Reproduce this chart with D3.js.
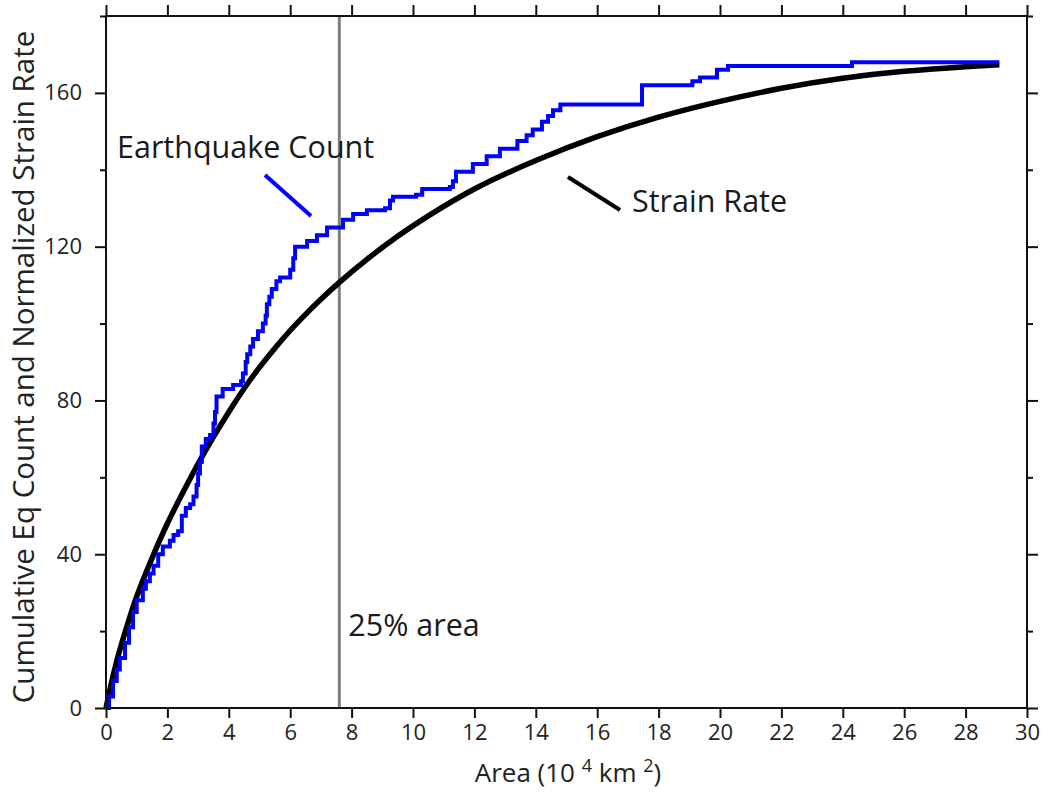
<!DOCTYPE html>
<html>
<head>
<meta charset="utf-8">
<script src="https://cdn.jsdelivr.net/npm/d3@7"></script>
<style>
  body { margin: 0; background: #fff; }
  svg { display: block; font-family: "Open Sans", "Noto Sans", sans-serif; }
</style>
</head>
<body>
<svg id="chart" width="1049" height="803"></svg>
<script>
// cumulative earthquake count (step curve)
const eqArea = [0, 0.1, 0.23, 0.35, 0.45, 0.62, 0.75, 0.88, 1.0, 1.2, 1.3, 1.43, 1.55, 1.7, 1.85,
  2.08, 2.2, 2.35, 2.47, 2.6, 2.74, 2.85, 2.95, 3.0, 3.06, 3.12, 3.25, 3.39, 3.5, 3.55, 3.6,
  3.8, 4.14, 4.4, 4.46, 4.55, 4.6, 4.7, 4.79, 4.95, 5.11, 5.2, 5.24, 5.32, 5.4, 5.55, 5.67,
  6.0, 6.1, 6.16, 6.55, 6.87, 7.2, 7.72, 8.05, 8.5, 9.09, 9.25, 9.35, 10.1, 10.3, 11.2, 11.3,
  11.4, 11.95, 12.4, 12.83, 13.4, 13.7, 13.9, 14.2, 14.4, 14.56, 14.8, 17.46, 19.1, 19.35,
  19.9, 20.26, 24.3, 29.1];
const eqCount = [0, 3, 7, 10, 13, 17, 21, 25, 28, 31, 33, 35, 37, 40, 42,
  43.5, 45, 46, 50, 52, 53, 55, 58, 61, 64, 68, 70, 71, 74, 77, 81,
  83, 84, 85, 87, 90, 92, 94, 96, 98, 100, 102, 105, 107, 109, 111, 112,
  114, 117, 120, 121.5, 123, 125, 127, 128.5, 129.5, 130, 132, 133, 133.5, 135, 135.5, 137,
  139.5, 141.5, 143.5, 145.5, 147.5, 149, 150.5, 152.5, 154, 155.5, 157, 162, 163, 164,
  166, 167, 168, 168];

// normalized strain rate curve
const strainArea = [0, 0.25, 0.5, 0.75, 1, 1.5, 2, 2.5, 3, 3.5, 4, 4.5, 5, 5.5, 6, 6.5, 7, 7.6,
  8.5, 9.5, 10.5, 12, 14, 16, 18, 20, 22, 24, 26, 28, 29.1];
const strainRate = [0, 9, 16.5, 23, 29, 39, 48, 56, 63.5, 70.5, 77, 83.1, 88.6, 93.6, 98.2, 102.4, 106.3, 110.7,
  116.7, 122.7, 128, 135, 142.4, 148.6, 153.7, 157.8, 161.2, 163.8, 165.6, 166.8, 167.3];

const areaMark = 7.6;   // 25% area
const xTicks = d3.range(0, 31, 2);
const yTicks = d3.range(0, 181, 20);
const yLabels = [0, 40, 80, 120, 160];

const svg = d3.select('#chart');
const margin = {left: 106, right: 22, top: 16, bottom: 95};
const W = 1049, H = 803;

const x = d3.scaleLinear().domain([0, 30]).range([margin.left, W - margin.right]);
const y = d3.scaleLinear().domain([0, 180]).range([H - margin.bottom, margin.top]);

// 25% area marker
svg.append('line')
  .attr('x1', x(areaMark)).attr('x2', x(areaMark))
  .attr('y1', y(180)).attr('y2', y(0))
  .attr('stroke', '#808080').attr('stroke-width', 3);

// strain rate
const strainLine = d3.line()
  .x(d => x(d[0])).y(d => y(d[1]))
  .curve(d3.curveNatural);
svg.append('path')
  .datum(d3.zip(strainArea, strainRate))
  .attr('d', strainLine)
  .attr('fill', 'none').attr('stroke', '#000').attr('stroke-width', 5.5);

// earthquake count
const eqLine = d3.line()
  .x(d => x(d[0])).y(d => y(d[1]))
  .curve(d3.curveStepAfter);
svg.append('path')
  .datum(d3.zip(eqArea, eqCount))
  .attr('d', eqLine)
  .attr('fill', 'none').attr('stroke', '#0000ff').attr('stroke-width', 4);

// frame and ticks
const axisColor = '#111';
svg.append('rect')
  .attr('x', x(0)).attr('y', y(180))
  .attr('width', x(30) - x(0)).attr('height', y(0) - y(180))
  .attr('fill', 'none').attr('stroke', axisColor).attr('stroke-width', 2);

const axBottom = svg.append('g')
  .attr('transform', `translate(0,${y(0)})`)
  .call(d3.axisBottom(x).tickValues(xTicks).tickSize(10).tickPadding(6).tickFormat(d3.format('d')));
const axTop = svg.append('g')
  .attr('transform', `translate(0,${y(180)})`)
  .call(d3.axisTop(x).tickValues(xTicks).tickSize(11).tickFormat(''));
const axLeft = svg.append('g')
  .attr('transform', `translate(${x(0)},0)`)
  .call(d3.axisLeft(y).tickValues(yTicks).tickSize(11).tickPadding(13)
    .tickFormat(d => yLabels.includes(d) ? d : ''));
const axRight = svg.append('g')
  .attr('transform', `translate(${x(30)},0)`)
  .call(d3.axisRight(y).tickValues(yTicks).tickSize(11).tickFormat(''));

[axBottom, axTop, axLeft, axRight].forEach(g => {
  g.select('.domain').remove();
  g.selectAll('line').attr('stroke', axisColor).attr('stroke-width', 2);
  g.selectAll('text').attr('fill', '#222').style('font-size', '22px')
    .style('font-family', '"Open Sans", sans-serif');
});
// minor y ticks are shorter
[axLeft, axRight].forEach((g, k) => {
  g.selectAll('.tick line')
    .attr('x2', d => (yLabels.includes(d) ? 11 : 6) * (k === 0 ? -1 : 1));
});

// axis titles
svg.append('text')
  .attr('transform', `translate(34,367) rotate(-90)`)
  .attr('text-anchor', 'middle')
  .attr('fill', '#222').style('font-size', '29.5px')
  .text('Cumulative Eq Count and Normalized Strain Rate');

const xt = svg.append('text')
  .attr('x', 568).attr('y', 782)
  .attr('text-anchor', 'middle')
  .attr('fill', '#222').style('font-size', '26px');
xt.append('tspan').text('Area (10 ');
xt.append('tspan').attr('dy', -10).style('font-size', '18px').text('4');
xt.append('tspan').attr('dy', 10).text(' km ');
xt.append('tspan').attr('dy', -10).style('font-size', '18px').text('2');
xt.append('tspan').attr('dy', 10).text(')');

// annotations
svg.append('text')
  .attr('x', 117).attr('y', 158)
  .attr('fill', '#1a1a1a').style('font-size', '30.5px')
  .text('Earthquake Count');
svg.append('line')
  .attr('x1', 265).attr('y1', 175).attr('x2', 311).attr('y2', 216)
  .attr('stroke', '#0000ff').attr('stroke-width', 4);

svg.append('text')
  .attr('x', 632).attr('y', 212)
  .attr('fill', '#1a1a1a').style('font-size', '30.5px')
  .text('Strain Rate');
svg.append('line')
  .attr('x1', 568).attr('y1', 177).attr('x2', 620).attr('y2', 210)
  .attr('stroke', '#000').attr('stroke-width', 4);

svg.append('text')
  .attr('x', x(areaMark) + 9).attr('y', 636)
  .attr('fill', '#1a1a1a').style('font-size', '30.5px')
  .text('25% area');
</script>
</body>
</html>
